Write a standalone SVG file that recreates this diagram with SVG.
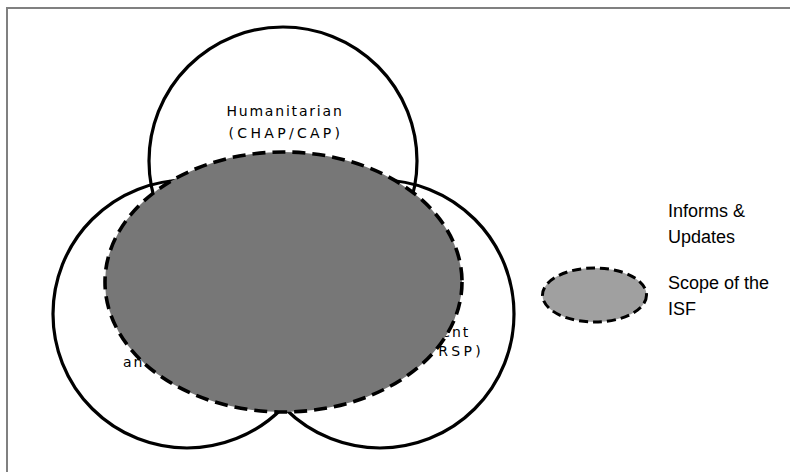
<svg xmlns="http://www.w3.org/2000/svg" width="790" height="472" viewBox="0 0 790 472">
<style>
.frame{fill:none;stroke:#808080;stroke-width:2}
.lobe{fill:none;stroke:#000;stroke-width:3.2}
.lbl{font-family:"DejaVu Sans",sans-serif;font-size:14px;fill:#000}
.scope{fill:#777777;stroke:#000;stroke-width:3.6;stroke-dasharray:13 7}
.legscope{fill:#a0a0a0;stroke:#000;stroke-width:3;stroke-dasharray:9 5}
.leg{font-family:"Liberation Sans",Arial,sans-serif;font-size:18px;fill:#000}
</style>
<rect width="790" height="472" fill="#fff"/>
<path class="frame" d="M7,472 V8 H790"/>
<g id="humanitarian">
<circle class="lobe" cx="283" cy="161" r="134"/>
<text class="lbl" x="285" y="116" text-anchor="middle" letter-spacing="1.8">Humanitarian</text>
<text class="lbl" x="286" y="138" text-anchor="middle" letter-spacing="3.3">(CHAP/CAP)</text>
</g>
<g id="political">
<circle class="lobe" cx="187" cy="314" r="134"/>
<text class="lbl" x="123" y="367" letter-spacing="2">and Security</text>
</g>
<g id="development">
<circle class="lobe" cx="380" cy="314" r="134"/>
<text class="lbl" x="470" y="337" text-anchor="end" letter-spacing="1.8">Development</text>
<text class="lbl" x="484" y="356" text-anchor="end" letter-spacing="3.3">(PRSP)</text>
</g>
<g id="isf-scope">
<ellipse class="scope" cx="283.5" cy="282" rx="178.5" ry="130"/>
</g>
<g id="legend">
<text class="leg" x="668" y="217">Informs &amp;</text>
<text class="leg" x="668" y="243">Updates</text>
<ellipse class="legscope" cx="594.5" cy="295" rx="52" ry="27"/>
<text class="leg" x="668" y="289">Scope of the</text>
<text class="leg" x="668" y="315">ISF</text>
</g>
<g id="connectors"></g>
</svg>
